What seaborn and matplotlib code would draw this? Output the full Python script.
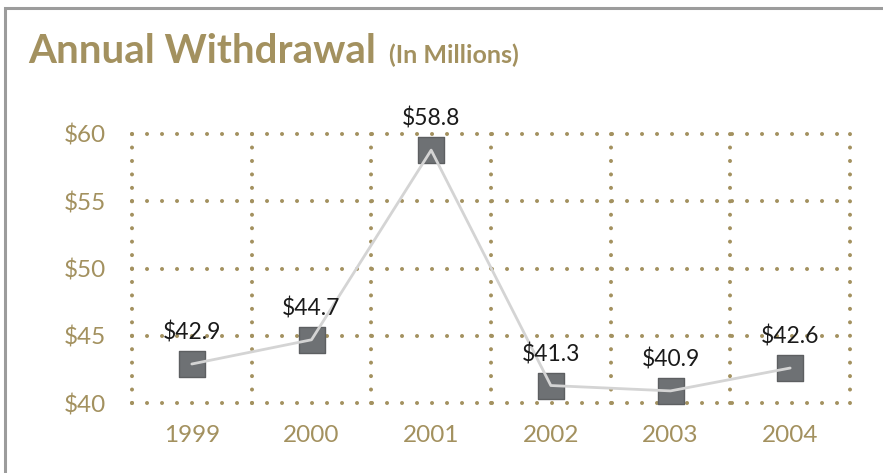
import matplotlib
matplotlib.use("Agg")
import matplotlib.pyplot as plt
import seaborn as sns
import pandas as pd
from matplotlib.patches import Rectangle

years = ["1999", "2000", "2001", "2002", "2003", "2004"]
values = [42.9, 44.7, 58.8, 41.3, 40.9, 42.6]
value_labels = ["$42.9", "$44.7", "$58.8", "$41.3", "$40.9", "$42.6"]
y_ticks = [40, 45, 50, 55, 60]
y_tick_labels = ["$40", "$45", "$50", "$55", "$60"]
title = "Annual Withdrawal"
subtitle = "(In Millions)"

GOLD = "#a3915f"
FONT = ["Lato", "DejaVu Sans"]

sns.set_style("white")
plt.rcParams["font.family"] = FONT

df = pd.DataFrame({"pos": range(len(years)), "year": years, "value": values})

fig = plt.figure(figsize=(8.83, 4.73), dpi=100)
ax = fig.add_axes([132 / 883, 1 - 403 / 473, (850 - 132) / 883, (403 - 134) / 473])

# markers
sns.scatterplot(data=df, x="pos", y="value", ax=ax, marker="s", s=26 ** 2 * 0.52,
                color="#6e7174", edgecolor="#5d5f61", linewidth=1, zorder=3, clip_on=False)
# connecting line on top
sns.lineplot(data=df, x="pos", y="value", ax=ax, color="#d4d4d4", linewidth=2,
             zorder=4, clip_on=False)

for x, v, lab in zip(df["pos"], values, value_labels):
    ax.annotate(lab, xy=(x, v), xytext=(0, 17.5), textcoords="offset points",
                ha="center", va="baseline", fontsize=16.5, color="#1a1a1a", zorder=5)

ax.set_xlim(-0.5, len(years) - 0.5)
ax.set_ylim(40, 60)
ax.set_xticks(range(len(years)))
ax.set_xticklabels(years)
ax.set_yticks(y_ticks)
ax.set_yticklabels(y_tick_labels)
ax.tick_params(axis="both", which="both", length=0, colors=GOLD, labelsize=17.5)
ax.tick_params(axis="x", pad=16)
ax.tick_params(axis="y", pad=19)
ax.set_xlabel("")
ax.set_ylabel("")
for s in ax.spines.values():
    s.set_visible(False)
ax.grid(False)

LW = 2.9
h_kw = dict(color=GOLD, linewidth=LW, linestyle=(0, (0.01, 10.8 / LW - 0.01)),
            dash_capstyle="round", clip_on=False, zorder=1)
v_kw = dict(color=GOLD, linewidth=LW, linestyle=(0, (0.01, 9.68 / LW - 0.01)),
            dash_capstyle="round", clip_on=False, zorder=1)
for xv in [i - 0.5 for i in range(len(years) + 1)]:
    ax.axvline(xv, **v_kw)
for yv in y_ticks:
    ax.axhline(yv, **h_kw)

# frame border
fig.patches.append(Rectangle((5 / 883, -0.2), 1.2, 1.2 - 8 / 473,
                             transform=fig.transFigure, fill=False,
                             edgecolor="#9c9c9c", linewidth=2.2, zorder=0))

fig.text(28 / 883, 1 - 63 / 473, title, fontsize=29, fontweight="bold",
         color=GOLD, va="baseline", ha="left")
fig.text(389 / 883, 1 - 63 / 473, subtitle, fontsize=18, fontweight="bold",
         color=GOLD, va="baseline", ha="left")

fig.savefig("out.png", dpi=100)
